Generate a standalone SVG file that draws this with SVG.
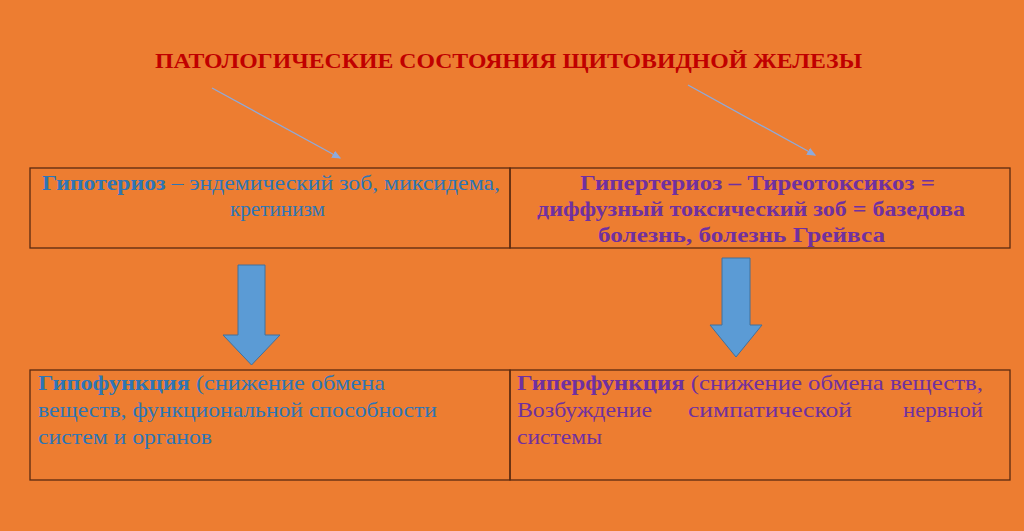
<svg xmlns="http://www.w3.org/2000/svg" width="1024" height="531" viewBox="0 0 1024 531">
<style>
.t{font-family:"Liberation Serif",serif;font-size:22px}
.b{font-weight:bold}
.bl{fill:#2e75b6}.pu{fill:#7030a0}
.cell{fill:none;stroke:#5a2a10;stroke-width:1.3}
.blk{fill:#5b9bd5;stroke:#41719c;stroke-width:1}
</style>
<defs><marker id="m" markerWidth="8" markerHeight="8" refX="6" refY="4" orient="auto"><path d="M0,1 L7,4 L0,7 z" fill="#8eaadb"/></marker></defs>
<rect width="1024" height="531" fill="#ed7d31"/>
<g id="title"><text x="155" y="68" class="t b" fill="#c00000" textLength="707" lengthAdjust="spacingAndGlyphs">ПАТОЛОГИЧЕСКИЕ СОСТОЯНИЯ ЩИТОВИДНОЙ ЖЕЛЕЗЫ</text></g>
<g id="connectors" stroke="#8eaadb" stroke-width="1.3">
<line x1="212" y1="88" x2="340" y2="158" marker-end="url(#m)"/>
<line x1="688" y1="85" x2="815" y2="155" marker-end="url(#m)"/>
<path class="blk" d="M238,265 H265 V335 H280 L251.5,365 L223,335 H238 Z"/>
<path class="blk" d="M722,258 H750 V325 H762 L736,357 L710,325 H722 Z"/>
</g>
<g id="hypo"><rect class="cell" x="30" y="168" width="480" height="80"/>
<text x="42" y="190" class="t bl" textLength="458" lengthAdjust="spacingAndGlyphs"><tspan class="b">Гипотериоз</tspan> – эндемический зоб, миксидема,</text>
<text x="230" y="216" class="t bl" textLength="95" lengthAdjust="spacingAndGlyphs">кретинизм</text></g>
<g id="hyper"><rect class="cell" x="510" y="168" width="500" height="80"/>
<text x="580" y="190" class="t b pu" textLength="355" lengthAdjust="spacingAndGlyphs">Гипертериоз – Тиреотоксикоз =</text>
<text x="537" y="216" class="t b pu" textLength="428" lengthAdjust="spacingAndGlyphs">диффузный токсический зоб = базедова</text>
<text x="598" y="242" class="t b pu" textLength="287" lengthAdjust="spacingAndGlyphs">болезнь, болезнь Грейвса</text></g>
<g id="hypof"><rect class="cell" x="30" y="370" width="480" height="110"/>
<text x="38" y="390" class="t bl" textLength="347" lengthAdjust="spacingAndGlyphs"><tspan class="b">Гипофункция</tspan> (снижение обмена</text>
<text x="38" y="417" class="t bl" textLength="399" lengthAdjust="spacingAndGlyphs">веществ, функциональной способности</text>
<text x="38" y="444" class="t bl" textLength="174" lengthAdjust="spacingAndGlyphs">систем и органов</text></g>
<g id="hyperf"><rect class="cell" x="510" y="370" width="500" height="110"/>
<text x="517" y="390" class="t pu" textLength="466" lengthAdjust="spacingAndGlyphs"><tspan class="b">Гиперфункция</tspan> (снижение обмена веществ,</text>
<text x="517" y="417" class="t pu" textLength="135" lengthAdjust="spacingAndGlyphs">Возбуждение</text>
<text x="688" y="417" class="t pu" textLength="164" lengthAdjust="spacingAndGlyphs">симпатической</text>
<text x="903" y="417" class="t pu" textLength="80" lengthAdjust="spacingAndGlyphs">нервной</text>
<text x="517" y="444" class="t pu" textLength="85" lengthAdjust="spacingAndGlyphs">системы</text></g>
</svg>
